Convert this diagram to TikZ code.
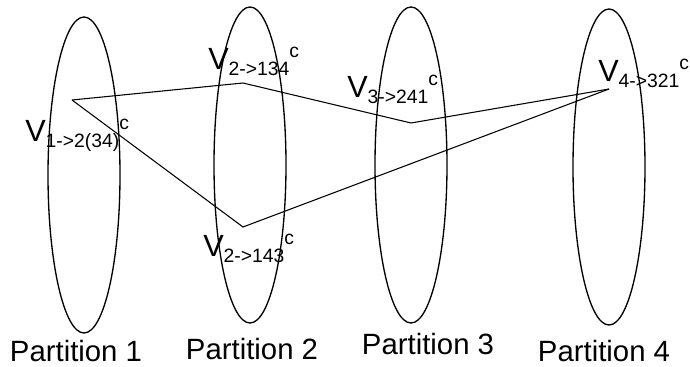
\documentclass[tikz,border=0pt]{standalone}
\usepackage{fontspec}
\setmainfont{Liberation Sans}
\usetikzlibrary{shapes.geometric}
\newcommand{\subsz}{\fontsize{14.5}{14.5}\selectfont}
\newcommand{\vlab}[1]{\fontsize{23}{23}\selectfont V\raisebox{-4pt}{\subsz #1}\raisebox{9.5pt}{\subsz c}}
\tikzset{
  part/.style={draw, line width=1pt, ellipse, inner sep=0pt, minimum width=54pt, minimum height=237pt},
  vlabel/.style={anchor=base west, inner sep=0pt},
  plabel/.style={anchor=base, inner sep=0pt, font=\fontsize{22}{22}\selectfont},
  link/.style={line width=0.8pt}
}
\begin{document}
\begin{tikzpicture}[x=0.75pt,y=-0.75pt]
\useasboundingbox (0,0) rectangle (690,367);
% partitions
\node[part] (e1) at (84,175) {};
\node[part] (e2) at (250,165) {};
\node[part] (e3) at (411,165) {};
\node[part] (e4) at (609,167) {};
% points
\coordinate (p1) at (72,100);
\coordinate (p2a) at (243,83);
\coordinate (p3) at (411,123);
\coordinate (p4) at (609,89);
\coordinate (p2b) at (243,227);
% connectors
\draw[link] (p1) -- (p2a) -- (p3) -- (p4);
\draw[link] (p1) -- (p2b) -- (p4);
% vertex labels
\node[vlabel] (l1) at (25,142) {\vlab{1->2(34)}};
\node[vlabel] (l2) at (208,70) {\vlab{2->134}};
\node[vlabel] (l3) at (347,98) {\vlab{3->241}};
\node[vlabel] (l4) at (598,82) {\vlab{4->321}};
\node[vlabel] (l5) at (203,257) {\vlab{2->143}};
% partition labels
\node[plabel] (t1) at (76,362) {Partition 1};
\node[plabel] (t2) at (252,360) {Partition 2};
\node[plabel] (t3) at (428,355) {Partition 3};
\node[plabel] (t4) at (604,362) {Partition 4};
\end{tikzpicture}
\end{document}
